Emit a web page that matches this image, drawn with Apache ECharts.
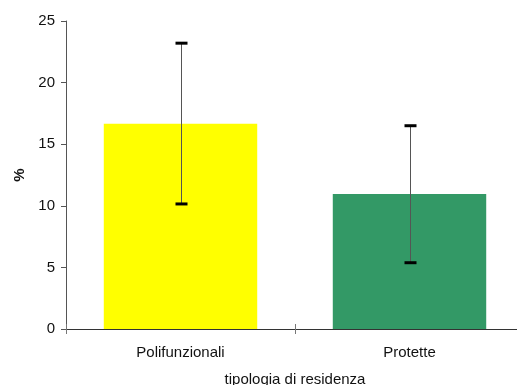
<!DOCTYPE html>
<html>
<head>
<meta charset="utf-8">
<script src="https://cdn.jsdelivr.net/npm/echarts@6/dist/echarts.min.js"></script>
<style>
html,body{margin:0;padding:0;background:#fff;}
#chart{width:517px;height:385px;}
</style>
</head>
<body>
<div id="chart"></div>
<script>
var categories = ['Polifunzionali', 'Protette'];
var values = [16.65, 10.95];
var errLow = [10.15, 5.38];
var errHigh = [23.2, 16.5];
var barColors = ['#FFFF00', '#339966'];
var yTicks = { min: 0, max: 25, interval: 5 };

var chart = echarts.init(document.getElementById('chart'), null, { renderer: 'canvas' });
var font = 'Arial, "Liberation Sans", sans-serif';

var errData = categories.map(function (c, i) { return [i, errLow[i], errHigh[i]]; });

chart.setOption({
  animation: false,
  backgroundColor: '#fff',
  grid: { left: 66, top: 21, width: 458, height: 308, containLabel: false, outerBoundsMode: 'none' },
  xAxis: [{
    type: 'category',
    data: categories,
    boundaryGap: true,
    axisLine: { show: true, lineStyle: { color: '#333', width: 1 } },
    axisTick: { show: true, alignWithLabel: false, length: 5, lineStyle: { color: '#777' } },
    axisLabel: { margin: 16, color: '#111', fontSize: 15, fontFamily: font },
    name: 'tipologia di residenza',
    nameLocation: 'middle',
    nameGap: 43,
    nameTextStyle: { color: '#111', fontSize: 15, fontFamily: font },
    splitLine: { show: false }
  }, {
    type: 'category',
    data: categories,
    position: 'bottom',
    boundaryGap: true,
    axisLine: { show: false },
    axisTick: { show: true, inside: true, length: 5, lineStyle: { color: '#777' } },
    axisLabel: { show: false },
    splitLine: { show: false }
  }],
  yAxis: {
    type: 'value',
    min: yTicks.min,
    max: yTicks.max,
    interval: yTicks.interval,
    axisLine: { show: true, lineStyle: { color: '#555', width: 1 } },
    axisTick: { show: true, length: 5, lineStyle: { color: '#555' } },
    axisLabel: { margin: 11, color: '#111', fontSize: 15, fontFamily: font },
    splitLine: { show: false },
    name: '%',
    nameLocation: 'middle',
    nameGap: 38,
    nameRotate: 90,
    nameTextStyle: { color: '#111', fontSize: 15, fontWeight: 'bold', fontFamily: font }
  },
  series: [{
    type: 'bar',
    data: values.map(function (v, i) { return { value: v, itemStyle: { color: barColors[i] } }; }),
    barWidth: '67%',
    z: 2
  }, {
    type: 'custom',
    data: errData,
    z: 5,
    renderItem: function (params, api) {
      var x = api.value(0);
      var lo = api.coord([x, api.value(1)]);
      var hi = api.coord([x, api.value(2)]);
      var cx = Math.round(lo[0]) + 0.5;
      var hw = 6;
      return {
        type: 'group',
        children: [
          { type: 'line', shape: { x1: cx, y1: hi[1], x2: cx, y2: lo[1] }, style: { stroke: '#555', lineWidth: 1 } },
          { type: 'line', shape: { x1: cx - hw, y1: hi[1], x2: cx + hw, y2: hi[1] }, style: { stroke: '#000', lineWidth: 3 } },
          { type: 'line', shape: { x1: cx - hw, y1: lo[1], x2: cx + hw, y2: lo[1] }, style: { stroke: '#000', lineWidth: 3 } }
        ]
      };
    }
  }]
});
</script>
</body>
</html>
